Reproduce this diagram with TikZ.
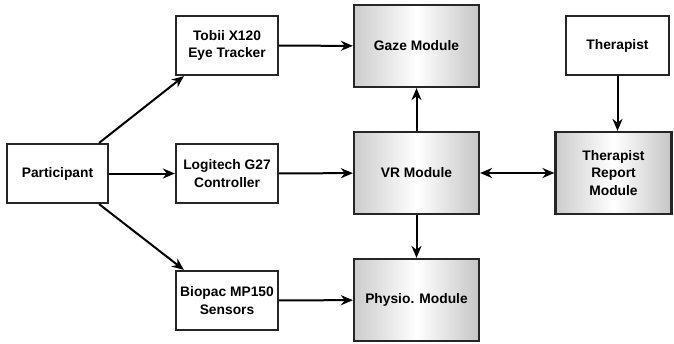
\documentclass[tikz,border=0pt]{standalone}
\usepackage{fontspec}
\setmainfont{Liberation Sans}
\usetikzlibrary{arrows.meta}
\begin{document}
\begin{tikzpicture}[x=1pt,y=-1pt,
  every node/.style={font=\fontsize{13.8}{17.5}\selectfont\bfseries, align=center, inner sep=0pt},
  plainbox/.style={draw=black!85, line width=2.2pt, fill=white},
  modbox/.style={draw=black!85, line width=2.2pt, left color=gray!40, right color=gray!45, middle color=white},
  conn/.style={line width=2pt, -{Stealth[length=12pt,width=10pt]}},
  conn2/.style={line width=2pt, {Stealth[length=12pt,width=10pt]}-{Stealth[length=12pt,width=10pt]}}]
\useasboundingbox (0,0) rectangle (674,343);
% plain boxes
\node[plainbox, minimum width=101pt, minimum height=59pt] (part) at (57.5,173.5) {Participant};
\node[plainbox, minimum width=102pt, minimum height=59pt] (tobii) at (227,45.5) {Tobii X120\\Eye Tracker};
\node[plainbox, minimum width=102pt, minimum height=59pt] (logi) at (227,173.5) {Logitech G27\\Controller};
\node[plainbox, minimum width=102pt, minimum height=59pt] (bio) at (227,300.5) {Biopac MP150\\Sensors};
\node[plainbox, minimum width=103pt, minimum height=59pt] (ther) at (617.5,45.5) {Therapist};
% module boxes
\node[modbox, minimum width=125pt, minimum height=82pt] (gaze) at (416.5,46) {Gaze Module};
\node[modbox, minimum width=125pt, minimum height=82pt] (vr) at (416.5,173) {VR Module};
\node[modbox, minimum width=125pt, minimum height=82pt] (phys) at (416.5,300) {Physio. Module};
\node[modbox, minimum width=116pt, minimum height=82pt] (rep) at (613.5,173) {Therapist\\Report\\Module};
% connectors
\draw[conn] ([xshift=-10pt]part.north east) -- ([xshift=9pt]tobii.south west);
\draw[conn] (part) -- (logi);
\draw[conn] ([xshift=-10pt]part.south east) -- ([xshift=9pt]bio.north west);
\draw[conn] (tobii) -- (gaze);
\draw[conn] (logi) -- (vr);
\draw[conn] (bio) -- (phys);
\draw[conn] (vr) -- (gaze);
\draw[conn] (vr) -- (phys);
\draw[conn2] (vr) -- (rep);
\draw[conn] (ther.south) -- (ther.south |- rep.north);
\end{tikzpicture}
\end{document}
